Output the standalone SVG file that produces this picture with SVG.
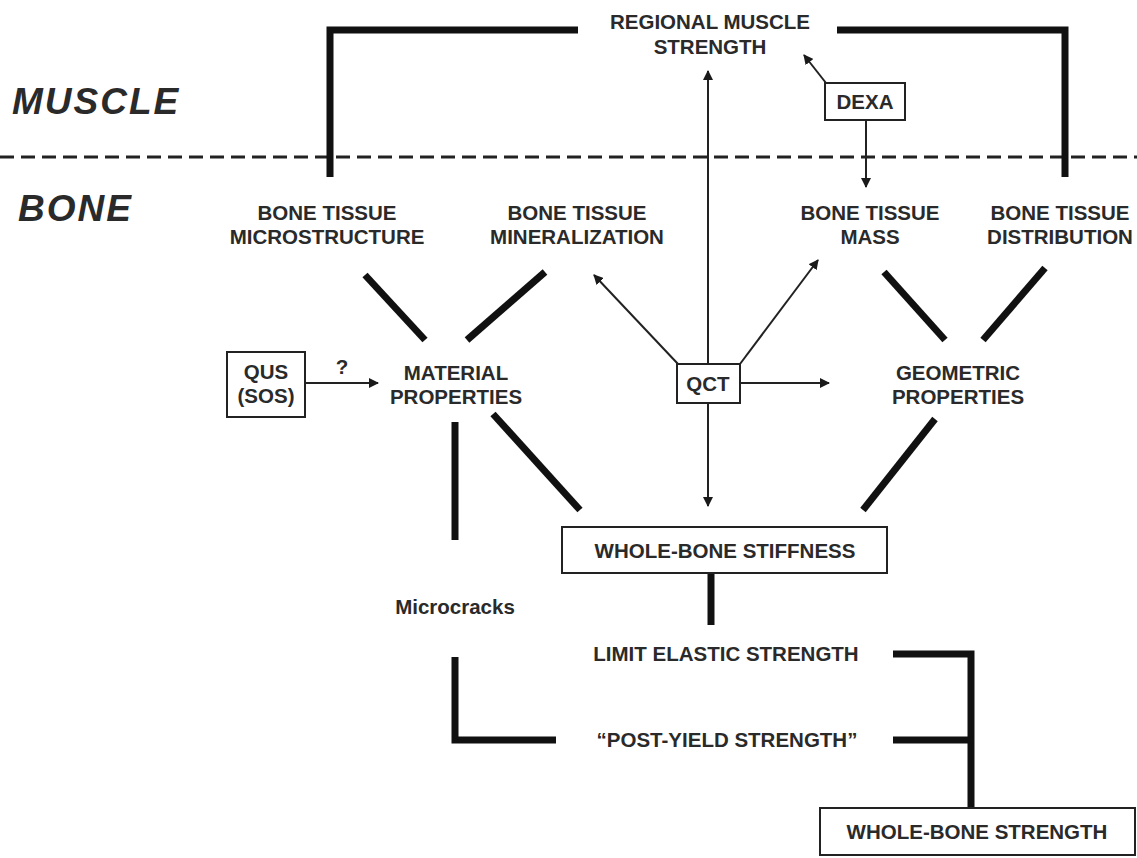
<svg xmlns="http://www.w3.org/2000/svg" width="1137" height="858" viewBox="0 0 1137 858">
<defs>
<marker id="ah" viewBox="0 0 10 10" refX="9" refY="5" markerWidth="10" markerHeight="10" markerUnits="userSpaceOnUse" orient="auto">
<path d="M0,0 L10,5 L0,10 z" fill="#1a1a1a"/>
</marker>
<style>
text{font-family:"Liberation Sans",Arial,sans-serif;font-weight:bold;fill:#2a2a2a;text-anchor:middle}
.t{font-size:20.5px}
.side{font-size:37px;font-style:italic;text-anchor:start;letter-spacing:2px}
.thick{stroke:#111;stroke-width:7;fill:none;stroke-linecap:butt}
.thin{stroke:#222;stroke-width:2;fill:none}
.box{fill:#fff;stroke:#222;stroke-width:2}
</style>
</defs>
<rect width="1137" height="858" fill="#fff"/>
<g id="divider">
<line x1="0" y1="157" x2="1137" y2="157" stroke="#222" stroke-width="3" stroke-dasharray="14 7"/>
<text class="side" x="12" y="114">MUSCLE</text>
<text class="side" x="18" y="221">BONE</text>
</g>
<g id="connectors">
<polyline class="thick" points="330,177 330,30 578,30"/>
<polyline class="thick" points="837,30 1065,30 1065,177"/>
<line class="thick" x1="365" y1="275" x2="425" y2="340"/>
<line class="thick" x1="545" y1="272" x2="467" y2="340"/>
<line class="thick" x1="884" y1="272" x2="945" y2="340"/>
<line class="thick" x1="1045" y1="268" x2="983" y2="340"/>
<line class="thick" x1="455" y1="422" x2="455" y2="540"/>
<polyline class="thick" points="455,657 455,740 556,740"/>
<line class="thick" x1="493" y1="414" x2="580" y2="510"/>
<line class="thick" x1="935" y1="419" x2="863" y2="510"/>
<line class="thick" x1="711" y1="573" x2="711" y2="625"/>
<polyline class="thick" points="893,654 971,654 971,808"/>
<line class="thick" x1="893" y1="740" x2="971" y2="740"/>
<line class="thin" x1="305" y1="383" x2="378" y2="383" marker-end="url(#ah)"/>
<line class="thin" x1="708" y1="364" x2="708" y2="71" marker-end="url(#ah)"/>
<line class="thin" x1="678" y1="364" x2="594" y2="275" marker-end="url(#ah)"/>
<line class="thin" x1="740" y1="364" x2="818" y2="260" marker-end="url(#ah)"/>
<line class="thin" x1="740" y1="383" x2="829" y2="383" marker-end="url(#ah)"/>
<line class="thin" x1="708" y1="403" x2="708" y2="506" marker-end="url(#ah)"/>
<line class="thin" x1="826" y1="83" x2="804" y2="55" marker-end="url(#ah)"/>
<line class="thin" x1="866" y1="120" x2="866" y2="187" marker-end="url(#ah)"/>
</g>
<g id="regional-muscle-strength">
<text class="t" x="710" y="29">REGIONAL MUSCLE</text>
<text class="t" x="710" y="54">STRENGTH</text>
</g>
<g id="dexa">
<rect class="box" x="825" y="83" width="80" height="37"/>
<text class="t" x="865" y="109">DEXA</text>
</g>
<g id="microstructure">
<text class="t" x="327" y="220">BONE TISSUE</text>
<text class="t" x="327" y="244">MICROSTRUCTURE</text>
</g>
<g id="mineralization">
<text class="t" x="577" y="220">BONE TISSUE</text>
<text class="t" x="577" y="244">MINERALIZATION</text>
</g>
<g id="mass">
<text class="t" x="870" y="220">BONE TISSUE</text>
<text class="t" x="870" y="244">MASS</text>
</g>
<g id="distribution">
<text class="t" x="1060" y="220">BONE TISSUE</text>
<text class="t" x="1060" y="244">DISTRIBUTION</text>
</g>
<g id="qus">
<rect class="box" x="227" y="352" width="78" height="65"/>
<text class="t" x="266" y="379">QUS</text>
<text class="t" x="266" y="403">(SOS)</text>
<text class="t" x="342" y="374">?</text>
</g>
<g id="material">
<text class="t" x="456" y="380">MATERIAL</text>
<text class="t" x="456" y="404">PROPERTIES</text>
</g>
<g id="qct">
<rect class="box" x="677" y="364" width="63" height="39"/>
<text class="t" x="708" y="391">QCT</text>
</g>
<g id="geometric">
<text class="t" x="958" y="380">GEOMETRIC</text>
<text class="t" x="958" y="404">PROPERTIES</text>
</g>
<g id="stiffness">
<rect class="box" x="562" y="527" width="325" height="46"/>
<text class="t" x="725" y="558">WHOLE-BONE STIFFNESS</text>
</g>
<g id="microcracks">
<text class="t" x="455" y="614">Microcracks</text>
</g>
<g id="limit-elastic">
<text class="t" x="726" y="661">LIMIT ELASTIC STRENGTH</text>
</g>
<g id="post-yield">
<text class="t" x="727" y="747">“POST-YIELD STRENGTH”</text>
</g>
<g id="strength">
<rect class="box" x="820" y="808" width="315" height="47"/>
<text class="t" x="977" y="839">WHOLE-BONE STRENGTH</text>
</g>
</svg>
